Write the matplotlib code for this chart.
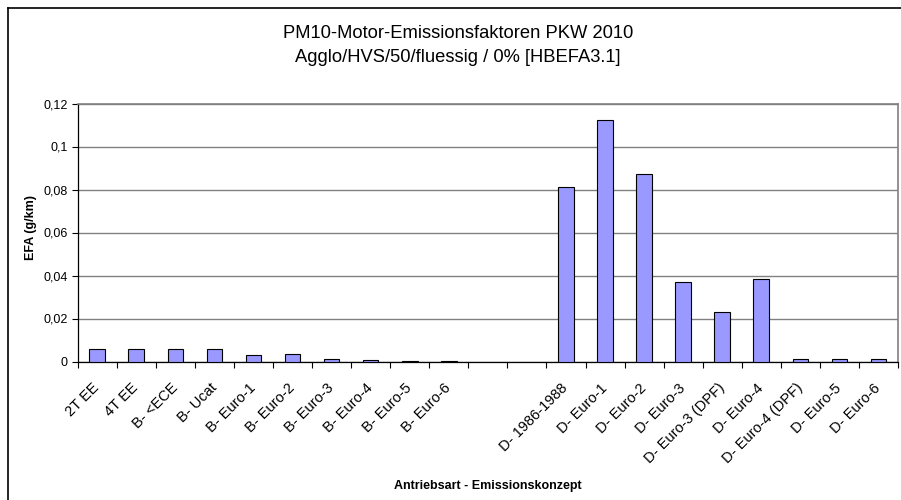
import matplotlib
matplotlib.use("Agg")
import matplotlib.pyplot as plt
from matplotlib.lines import Line2D
from matplotlib.transforms import ScaledTranslation
import numpy as np

plt.rcParams['font.family'] = ['Liberation Sans', 'DejaVu Sans']

# Vehicle concept categories (two empty slots separate petrol and diesel)
categories = [
    "2T EE", "4T EE", "B- <ECE", "B- Ucat", "B- Euro-1", "B- Euro-2",
    "B- Euro-3", "B- Euro-4", "B- Euro-5", "B- Euro-6", "", "",
    "D- 1986-1988", "D- Euro-1", "D- Euro-2", "D- Euro-3", "D- Euro-3 (DPF)",
    "D- Euro-4", "D- Euro-4 (DPF)", "D- Euro-5", "D- Euro-6",
]
# PM10 exhaust emission factors in g/km (None = empty slot)
efa = [
    0.0059, 0.0059, 0.0059, 0.0059, 0.0028, 0.0036,
    0.0013, 0.0008, 0.0003, 0.0003, None, None,
    0.0812, 0.1121, 0.0870, 0.0368, 0.0231,
    0.0382, 0.0013, 0.0013, 0.0013,
]
yticks = [0, 0.02, 0.04, 0.06, 0.08, 0.1, 0.12]
ytick_labels = ["0", "0,02", "0,04", "0,06", "0,08", "0,1", "0,12"]

W, H = 901, 500
fig = plt.figure(figsize=(W / 100, H / 100), dpi=100)

# outer chart frame
fig.add_artist(Line2D([8 / W, 8 / W], [0, 1 - 8 / H], color="black", lw=1.2,
                      transform=fig.transFigure))
fig.add_artist(Line2D([8 / W, 1], [1 - 8 / H, 1 - 8 / H], color="black", lw=1.2,
                      transform=fig.transFigure))

left, right, top, bottom = 77.7, 898, 103.5, 361.5
ax = fig.add_axes([left / W, 1 - bottom / H, (right - left) / W, (bottom - top) / H])

n = len(categories)
xs = np.arange(n)
idx = [i for i, v in enumerate(efa) if v is not None]
ax.bar([xs[i] for i in idx], [efa[i] for i in idx], width=0.4,
       color="#9999FF", edgecolor="black", linewidth=0.8, zorder=3)

ax.set_xlim(-0.5, n - 0.5)
ax.set_ylim(0, 0.12)

# y axis
ax.set_yticks(yticks)
ax.set_yticklabels(ytick_labels, fontsize=9)
ax.tick_params(axis="y", direction="out", length=4, width=0.8, pad=3)
ax.yaxis.grid(True, color="#808080", linewidth=1, zorder=0)

# x axis: boundary ticks, labels at category centres
ax.set_xticks(np.arange(n + 1) - 0.5)
ax.set_xticklabels([])
ax.tick_params(axis="x", which="major", direction="out", length=4, width=0.8)
ax.set_xticks(xs, minor=True)
ax.set_xticklabels(categories, minor=True, rotation=45, ha="right", va="top",
                   rotation_mode="anchor", fontsize=10.5)
ax.tick_params(axis="x", which="minor", length=0, pad=14)
shift = ScaledTranslation(-5 / 100, 0, fig.dpi_scale_trans)
for lbl in ax.get_xticklabels(minor=True):
    lbl.set_transform(lbl.get_transform() + shift)

for side in ("left", "bottom"):
    ax.spines[side].set_color("black")
    ax.spines[side].set_linewidth(0.9)
for side in ("top", "right"):
    ax.spines[side].set_color("#808080")
    ax.spines[side].set_linewidth(1.2)

fig.text(458 / W, 1 - 33 / H, "PM10-Motor-Emissionsfaktoren PKW 2010",
         ha="center", va="center", fontsize=13.2)
fig.text(458 / W, 1 - 58 / H, "Agglo/HVS/50/fluessig / 0% [HBEFA3.1]",
         ha="center", va="center", fontsize=13.2)
fig.text(31 / W, 1 - 228 / H, "EFA (g/km)", rotation=90, ha="center",
         va="center", fontsize=9, fontweight="bold")
fig.text(488 / W, 1 - 486 / H, "Antriebsart - Emissionskonzept", ha="center",
         va="center", fontsize=9, fontweight="bold")

fig.savefig("out.png", dpi=100)
